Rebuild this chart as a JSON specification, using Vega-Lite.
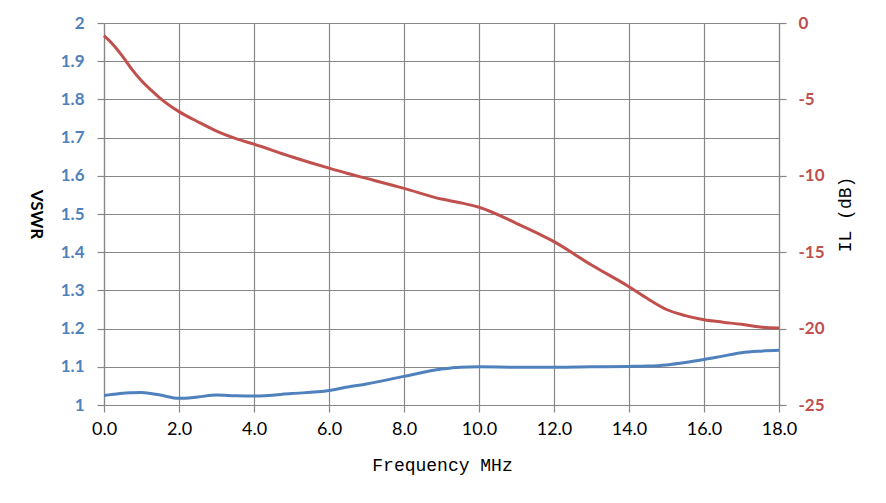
{
  "$schema": "https://vega.github.io/schema/vega-lite/v6.json",
  "width": 675,
  "height": 382,
  "autosize": {"type": "none"},
  "padding": {"left": 104, "top": 23, "right": 107, "bottom": 98},
  "background": "white",
  "config": {
    "view": {"stroke": null},
    "axis": {
      "gridColor": "#878787",
      "gridOpacity": 1,
      "gridWidth": 1.2,
      "domainColor": "#878787",
      "domainWidth": 1.2,
      "tickColor": "#878787",
      "tickWidth": 1.2,
      "tickSize": 7
    }
  },
  "data": {
    "values": [
      {"f": 0, "vswr": 1.025, "il": -0.83},
      {"f": 0.25, "vswr": 1.028, "il": -1.44},
      {"f": 0.5, "vswr": 1.031, "il": -2.2},
      {"f": 0.75, "vswr": 1.032, "il": -3.05},
      {"f": 1, "vswr": 1.0325, "il": -3.78},
      {"f": 1.25, "vswr": 1.03, "il": -4.38},
      {"f": 1.5, "vswr": 1.026, "il": -4.93},
      {"f": 2, "vswr": 1.0175, "il": -5.8},
      {"f": 2.5, "vswr": 1.021, "il": -6.46},
      {"f": 3, "vswr": 1.026, "il": -7.07},
      {"f": 3.5, "vswr": 1.0245, "il": -7.55},
      {"f": 4, "vswr": 1.0237, "il": -7.93},
      {"f": 5, "vswr": 1.03, "il": -8.75},
      {"f": 6, "vswr": 1.0377, "il": -9.5},
      {"f": 6.5, "vswr": 1.047, "il": -9.85},
      {"f": 7, "vswr": 1.055, "il": -10.17},
      {"f": 8, "vswr": 1.075, "il": -10.82},
      {"f": 9, "vswr": 1.094, "il": -11.52},
      {"f": 9.5, "vswr": 1.099, "il": -11.76},
      {"f": 10, "vswr": 1.1, "il": -12.06},
      {"f": 11, "vswr": 1.099, "il": -13.11},
      {"f": 12, "vswr": 1.099, "il": -14.31},
      {"f": 13, "vswr": 1.1, "il": -15.84},
      {"f": 14, "vswr": 1.101, "il": -17.26},
      {"f": 14.5, "vswr": 1.102, "il": -18.05},
      {"f": 15, "vswr": 1.105, "il": -18.75},
      {"f": 15.5, "vswr": 1.111, "il": -19.15},
      {"f": 16, "vswr": 1.119, "il": -19.42},
      {"f": 16.5, "vswr": 1.128, "il": -19.58},
      {"f": 17, "vswr": 1.137, "il": -19.72},
      {"f": 17.5, "vswr": 1.141, "il": -19.9},
      {"f": 18, "vswr": 1.143, "il": -19.96}
    ]
  },
  "encoding": {
    "x": {
      "field": "f",
      "type": "quantitative",
      "scale": {"domain": [0, 18], "nice": false},
      "axis": {
        "values": [0, 2, 4, 6, 8, 10, 12, 14, 16, 18],
        "format": ".1f",
        "labelFlush": false,
        "labelOverlap": false,
        "labelFont": "Lato",
        "labelFontSize": 18,
        "labelColor": "black",
        "labelPadding": 8,
        "title": "Frequency MHz",
        "titleFont": "Liberation Mono",
        "titleFontSize": 18,
        "titleFontWeight": "normal",
        "titleColor": "black",
        "titleX": 338,
        "titleY": 60,
        "titleAlign": "center",
        "titleBaseline": "middle"
      }
    }
  },
  "layer": [
    {
      "mark": {"type": "line", "color": "#4F81BD", "strokeWidth": 3, "interpolate": "monotone"},
      "encoding": {
        "y": {
          "field": "vswr",
          "type": "quantitative",
          "scale": {"domain": [1, 2], "nice": false, "zero": false},
          "axis": {
            "values": [1, 1.1, 1.2, 1.3, 1.4, 1.5, 1.6, 1.7, 1.8, 1.9, 2],
            "format": "~g",
            "labelFont": "Lato",
            "labelFontSize": 17,
            "labelFontWeight": "bold",
            "labelColor": "#4F81BD",
            "labelPadding": 13,
            "title": "VSWR",
            "titleFont": "Lato",
            "titleFontSize": 17,
            "titleFontWeight": "bold",
            "titleColor": "black",
            "titleAngle": 90,
            "titleX": -69,
            "titleY": 191,
            "titleAlign": "center",
            "titleBaseline": "middle"
          }
        }
      }
    },
    {
      "mark": {"type": "line", "color": "#C0504D", "strokeWidth": 3, "interpolate": "monotone"},
      "encoding": {
        "y": {
          "field": "il",
          "type": "quantitative",
          "scale": {"domain": [-25, 0], "nice": false},
          "axis": {
            "orient": "right",
            "grid": false,
            "values": [-25, -20, -15, -10, -5, 0],
            "labelExpr": "'' + datum.value",
            "labelFont": "Lato",
            "labelFontSize": 17,
            "labelFontWeight": "bold",
            "labelColor": "#C0504D",
            "labelPadding": 12,
            "title": "IL (dB)",
            "titleFont": "Liberation Mono",
            "titleFontSize": 18,
            "titleFontWeight": "normal",
            "titleColor": "black",
            "titleAngle": 270,
            "titleX": 66,
            "titleY": 191,
            "titleAlign": "center",
            "titleBaseline": "middle"
          }
        }
      }
    }
  ],
  "resolve": {"scale": {"y": "independent"}}
}
